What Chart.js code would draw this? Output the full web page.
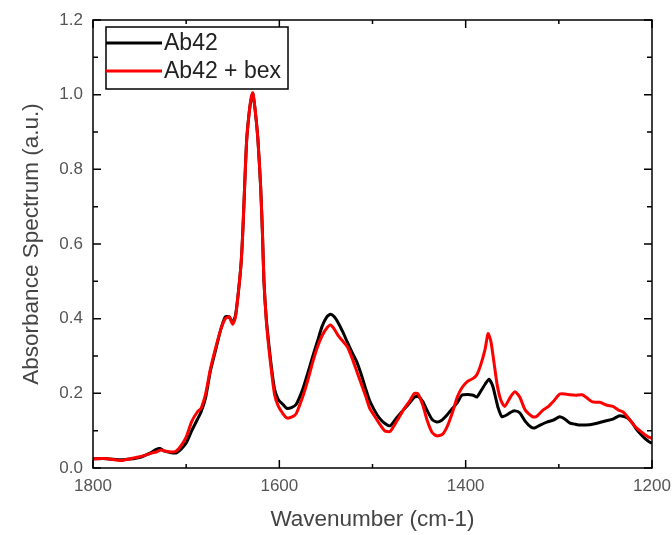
<!DOCTYPE html>
<html>
<head>
<meta charset="utf-8">
<script src="https://cdn.jsdelivr.net/npm/chart.js@4.4.1/dist/chart.umd.min.js"></script>
<style>
  html, body { margin: 0; padding: 0; background: #fff; }
  #wrap { width: 672px; height: 535px; }
</style>
</head>
<body>
<div id="wrap"><canvas id="spectrum" width="672" height="535"></canvas></div>
<script>
// FTIR absorbance spectra, amide I / II region
const seriesNames = ['Ab42', 'Ab42 + bex'];
const seriesColors = ['#000000', '#ff0000'];
const yTicks = [0.0, 0.2, 0.4, 0.6, 0.8, 1.0, 1.2];
const xTicks = [1800, 1600, 1400, 1200];

const wnAb42 = [1800, 1785, 1770, 1760, 1750, 1743, 1737, 1732, 1728, 1724, 1718, 1711, 1705, 1700,
  1694, 1688, 1684, 1679, 1674, 1668, 1663, 1658, 1654, 1650, 1647, 1644, 1641, 1639, 1637, 1635,
  1632, 1630, 1628.5, 1626, 1623, 1620, 1618, 1616.5, 1614, 1611, 1608, 1605, 1601, 1596, 1592,
  1587, 1582, 1575, 1570, 1564, 1559, 1554, 1549, 1545, 1541, 1537, 1532, 1527, 1522, 1517, 1512,
  1507, 1503, 1498, 1493, 1487, 1481, 1474, 1467, 1460, 1455, 1451, 1446, 1441, 1436, 1431,
  1426, 1420, 1414, 1409, 1404, 1398, 1392, 1388, 1384, 1379, 1375, 1371, 1368, 1365, 1361, 1356,
  1351, 1347, 1342, 1336, 1330, 1326, 1320, 1313, 1306, 1299, 1293, 1288, 1282, 1277, 1267, 1259,
  1250, 1242, 1235, 1230, 1226, 1221, 1217, 1213, 1208, 1203, 1200];
const absAb42 = [0.025, 0.025, 0.022, 0.024, 0.028, 0.035, 0.042, 0.05, 0.052, 0.046, 0.042, 0.04, 0.052, 0.067,
  0.10, 0.13, 0.15, 0.19, 0.26, 0.32, 0.37, 0.405, 0.405, 0.39, 0.41, 0.47, 0.55, 0.645, 0.77, 0.88,
  0.96, 0.99, 1.003, 0.96, 0.88, 0.75, 0.62, 0.50, 0.40, 0.325, 0.26, 0.21, 0.183, 0.17, 0.16,
  0.162, 0.17, 0.21, 0.25, 0.30, 0.34, 0.38, 0.405, 0.412, 0.405, 0.39, 0.365, 0.337, 0.31, 0.285, 0.25,
  0.21, 0.18, 0.155, 0.135, 0.12, 0.113, 0.135, 0.155, 0.175, 0.19, 0.192, 0.178, 0.152, 0.13, 0.123,
  0.127, 0.142, 0.16, 0.175, 0.195, 0.197, 0.195, 0.19, 0.205, 0.225, 0.238, 0.22, 0.19, 0.16, 0.137, 0.142,
  0.15, 0.153, 0.148, 0.125, 0.11, 0.107, 0.115, 0.123, 0.128, 0.137, 0.13, 0.12, 0.117, 0.115, 0.116, 0.12,
  0.126, 0.131, 0.14, 0.138, 0.134, 0.12, 0.105, 0.093, 0.08, 0.07, 0.066];

const wnBex = [1800, 1785, 1770, 1760, 1750, 1743, 1737, 1732, 1727, 1722, 1716, 1711, 1706, 1700,
  1694, 1688, 1684, 1679, 1674, 1668, 1663, 1658, 1654, 1650, 1647, 1644, 1641, 1639, 1637, 1635,
  1632, 1630, 1628.5, 1626, 1623, 1620, 1618, 1616.5, 1614, 1611, 1608, 1605, 1601, 1596, 1592,
  1587, 1582, 1575, 1570, 1564, 1559, 1554, 1549, 1545, 1541, 1537, 1532, 1527, 1522, 1517, 1512,
  1507, 1503, 1498, 1493, 1487, 1481, 1474, 1467, 1460, 1455, 1451, 1446, 1441, 1436, 1431,
  1425, 1420, 1414, 1409, 1404, 1398, 1392, 1388, 1384, 1379, 1376, 1373, 1370, 1366, 1362, 1358,
  1352, 1347, 1342, 1336, 1328, 1324, 1317, 1311, 1306, 1299, 1293, 1288, 1282, 1275, 1270, 1264,
  1256, 1248, 1242, 1236, 1231, 1226, 1221, 1217, 1213, 1208, 1203, 1200];
const absBex = [0.025, 0.025, 0.02, 0.025, 0.03, 0.035, 0.04, 0.043, 0.048, 0.045, 0.043, 0.045, 0.058, 0.083,
  0.125, 0.15, 0.16, 0.20, 0.265, 0.325, 0.37, 0.40, 0.405, 0.385, 0.405, 0.47, 0.55, 0.645, 0.77, 0.88,
  0.96, 0.995, 1.005, 0.96, 0.88, 0.75, 0.62, 0.50, 0.395, 0.315, 0.25, 0.195, 0.165, 0.145, 0.134,
  0.136, 0.145, 0.19, 0.23, 0.285, 0.325, 0.355, 0.375, 0.383, 0.372, 0.355, 0.34, 0.325, 0.295, 0.26, 0.225,
  0.19, 0.16, 0.14, 0.12, 0.10, 0.098, 0.125, 0.155, 0.18, 0.2, 0.198, 0.168, 0.125, 0.095, 0.086,
  0.09, 0.11, 0.15, 0.19, 0.215, 0.232, 0.24, 0.25, 0.275, 0.32, 0.36, 0.34, 0.29, 0.22, 0.18, 0.165,
  0.19, 0.204, 0.19, 0.155, 0.137, 0.138, 0.155, 0.165, 0.178, 0.198, 0.198, 0.196, 0.195, 0.196, 0.188, 0.177,
  0.176, 0.168, 0.165, 0.155, 0.15, 0.136, 0.12, 0.108, 0.10, 0.09, 0.082, 0.08];

function toPoints(xs, ys) {
  return xs.map((x, i) => ({ x: x, y: ys[i] }));
}

// frame + inward major/minor ticks on all four sides, plus the boxed legend
const frameTicks = {
  id: 'frameTicks',
  afterDatasetsDraw(chart) {
    const { ctx, chartArea: a, scales: { x, y } } = chart;
    ctx.save();
    ctx.strokeStyle = '#000';
    ctx.lineWidth = 1.5;
    ctx.strokeRect(a.left, a.top, a.right - a.left, a.bottom - a.top);
    ctx.beginPath();
    for (let v = 1200; v <= 1800; v += 100) {
      const px = x.getPixelForValue(v);
      const len = v % 200 === 0 ? 8 : 4;
      ctx.moveTo(px, a.bottom); ctx.lineTo(px, a.bottom - len);
      ctx.moveTo(px, a.top); ctx.lineTo(px, a.top + len);
    }
    for (let k = 0; k <= 12; k++) {
      const py = y.getPixelForValue(k / 10);
      const len = k % 2 === 0 ? 8 : 5;
      ctx.moveTo(a.left, py); ctx.lineTo(a.left + len, py);
      ctx.moveTo(a.right, py); ctx.lineTo(a.right - len, py);
    }
    ctx.stroke();
    ctx.restore();
  },
  afterDraw(chart) {
    const { ctx } = chart;
    const bx = 106, by = 27, bw = 182, bh = 62;
    ctx.save();
    ctx.fillStyle = '#fff';
    ctx.fillRect(bx, by, bw, bh);
    ctx.strokeStyle = '#000';
    ctx.lineWidth = 1.5;
    ctx.strokeRect(bx, by, bw, bh);
    ctx.font = '23px "Liberation Sans", Arial, sans-serif';
    ctx.textBaseline = 'middle';
    seriesNames.forEach((name, i) => {
      const ly = by + 16 + i * 28;
      ctx.strokeStyle = seriesColors[i];
      ctx.lineWidth = 3;
      ctx.beginPath();
      ctx.moveTo(bx, ly); ctx.lineTo(bx + 56, ly);
      ctx.stroke();
      ctx.fillStyle = '#222';
      ctx.fillText(name, bx + 58, ly + 1);
    });
    ctx.restore();
  }
};

new Chart(document.getElementById('spectrum'), {
  type: 'line',
  data: {
    datasets: [
      { label: seriesNames[0], data: toPoints(wnAb42, absAb42), borderColor: seriesColors[0],
        borderWidth: 3, pointRadius: 0, tension: 0.2, order: 1 },
      { label: seriesNames[1], data: toPoints(wnBex, absBex), borderColor: seriesColors[1],
        borderWidth: 3, pointRadius: 0, tension: 0.2, order: 0 }
    ]
  },
  options: {
    responsive: false,
    animation: false,
    layout: { padding: { left: 0, right: 20, top: 20, bottom: 0 } },
    plugins: { legend: { display: false }, tooltip: { enabled: false } },
    scales: {
      x: {
        type: 'linear',
        reverse: true,
        min: 1200,
        max: 1800,
        afterFit: s => { s.height = 67; s.paddingLeft = 0; s.paddingRight = 0; },
        afterBuildTicks: s => { s.ticks = xTicks.map(v => ({ value: v })); },
        grid: { display: false, drawTicks: false },
        border: { display: false },
        ticks: { padding: 8, color: '#555', font: { family: '"Liberation Sans", Arial', size: 17 },
          maxRotation: 0, callback: v => String(v) },
        title: { display: true, text: 'Wavenumber (cm-1)', color: '#444',
          font: { family: '"Liberation Sans", Arial', size: 22.5 }, padding: { top: 0, bottom: 2 } }
      },
      y: {
        min: 0,
        max: 1.2,
        afterFit: s => { s.width = 93; s.paddingTop = 0; s.paddingBottom = 0; },
        afterBuildTicks: s => { s.ticks = yTicks.map(v => ({ value: v })); },
        grid: { display: false, drawTicks: false },
        border: { display: false },
        ticks: { padding: 10, color: '#555', font: { family: '"Liberation Sans", Arial', size: 17 },
          callback: v => Number(v).toFixed(1) },
        title: { display: true, text: 'Absorbance Spectrum (a.u.)', color: '#444',
          font: { family: '"Liberation Sans", Arial', size: 22.5 }, padding: { top: 18, bottom: 0 } }
      }
    }
  },
  plugins: [frameTicks]
});
</script>
</body>
</html>
